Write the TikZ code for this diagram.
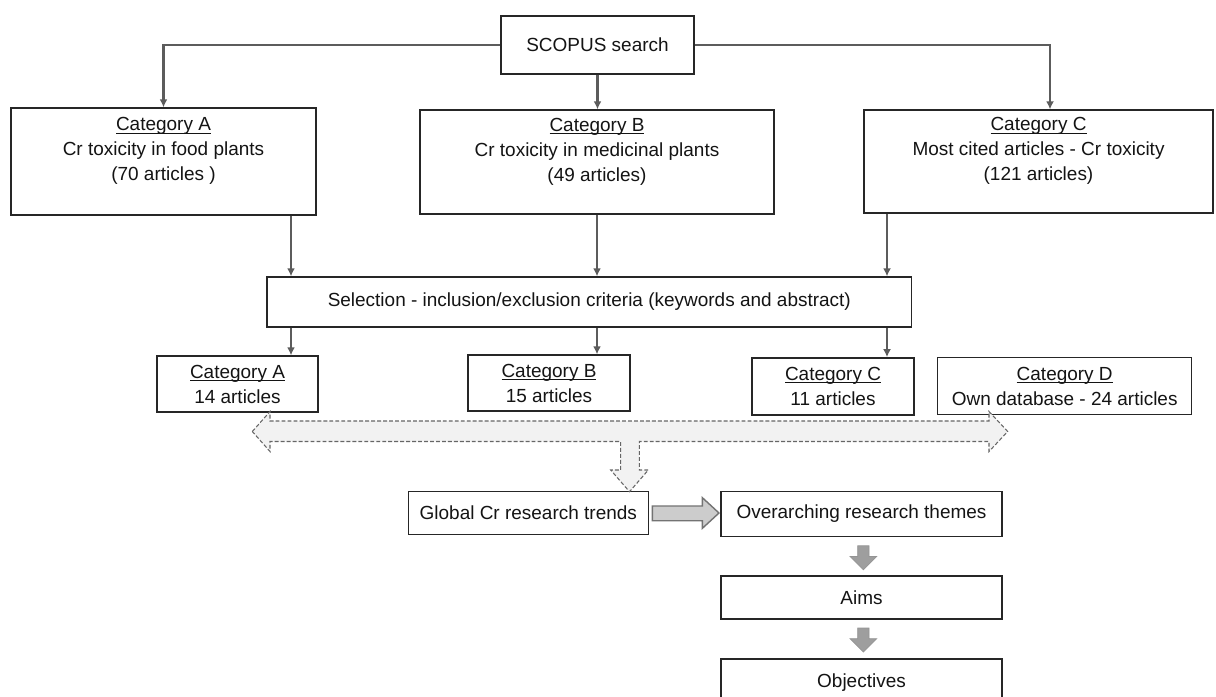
\documentclass[tikz,border=0pt]{standalone}
\usepackage{fontspec}
\setmainfont{Liberation Sans}
\usetikzlibrary{arrows.meta,positioning,calc}
\newcommand{\catul}[1]{\setbox0\hbox{#1}\rlap{\rule[-1.6pt]{\wd0}{0.55pt}}\box0}

\begin{document}
\begin{tikzpicture}[x=0.02cm,y=-0.02cm,>={Latex[length=0.16cm,width=0.16cm]},
  every node/.style={font=\fontsize{10.8}{14.2}\selectfont,text=black!92},
  bx/.style={draw=black!85,line width=0.8pt,fill=white,align=center,inner sep=0pt},
  ar/.style={->,line width=1.4pt,black!64},
  dsh/.style={draw=black!60,fill=black!5,line width=0.6pt,dash pattern=on 2.2pt off 1.2pt},
  blk/.style={draw=black!55,fill=black!20,line width=0.8pt},
  dn/.style={draw=black!42,fill=black!38,line width=0.4pt}]
\useasboundingbox[fill=white] (0,0) rectangle (1216,696);
\node[bx,minimum width=3.86cm,minimum height=1.16cm] (scopus) at (597.5,45) {SCOPUS search};
\node[bx,minimum width=6.1cm,minimum height=2.14cm] (catA) at (163.5,161.5) {\catul{Category A}\\Cr toxicity in food plants\\(70 articles )\\\mbox{}};
\node[bx,minimum width=7.08cm,minimum height=2.08cm] (catB) at (597,162) {\catul{Category B}\\Cr toxicity in medicinal plants\\(49 articles)\\\mbox{}};
\node[bx,minimum width=6.98cm,minimum height=2.06cm] (catC) at (1038.5,161.5) {\catul{Category C}\\Most cited articles - Cr toxicity\\(121 articles)\\\mbox{}};
\node[bx,minimum width=12.9cm,minimum height=1.0cm] (sel) at (589.3,302) {Selection - inclusion/exclusion criteria (keywords and abstract)};
\node[bx,minimum width=3.22cm,minimum height=1.12cm] (keptA) at (237.5,384) {\catul{Category A}\\14 articles};
\node[bx,minimum width=3.24cm,minimum height=1.12cm] (keptB) at (549,383) {\catul{Category B}\\15 articles};
\node[bx,minimum width=3.24cm,minimum height=1.14cm] (keptC) at (833,386.3) {\catul{Category C}\\11 articles};
\node[bx,minimum width=5.08cm,minimum height=1.13cm] (keptD) at (1064.7,386) {\catul{Category D}\\Own database - 24 articles};
\node[bx,minimum width=4.8cm,minimum height=0.85cm] (trends) at (528.3,513) {Global Cr research trends};
\node[bx,minimum width=5.62cm,minimum height=0.91cm] (themes) at (861.5,514) {Overarching research themes};
\node[bx,minimum width=5.62cm,minimum height=0.86cm] (aims) at (861.5,597.5) {Aims};
\node[bx,minimum width=5.62cm,minimum height=0.94cm] (obj) at (861.5,682.6) {Objectives};
\coordinate (xa) at (291,0);
\coordinate (xb) at (597,0);
\coordinate (xc) at (887,0);
\draw[ar] (scopus.west) -| (catA.north);
\draw[ar] (scopus.south) -- (scopus.south |- catB.north);
\draw[ar] (scopus.east) -| ($(catC.north)+(11.5,0)$);
\foreach \c/\s in {A/xa,B/xb,C/xc} {
  \draw[ar] (cat\c.south -| \s) -- (sel.north -| \s);
  \draw[ar] (sel.south -| \s) -- (kept\c.north -| \s);
}
\draw[dsh] (252.3,431.5) -- (270,411.5) -- (270,421) -- (989,421) -- (989,411.5) -- (1007.7,431.5) -- (989,451.5) -- (989,441.5) -- (639.3,441.5) -- (639.3,470) -- (648.3,470) -- (629.5,491.7) -- (610.7,470) -- (620.7,470) -- (620.7,441.5) -- (270,441.5) -- (270,451.5) -- cycle;
\draw[blk] ($(trends.east)+(3.4,-7)$) -- ++(50,0) -- ++(0,-8.3) -- ++(16.6,15.3) -- ++(-16.6,15.3) -- ++(0,-7.6) -- ++(-50,0) -- cycle;
\foreach \a in {themes,aims}
  \draw[dn] ($(\a.south)+(-3.8,8.3)$) -- ++(11.3,0) -- ++(0,10.7) -- ++(7.7,0) -- ++(-13.35,13.3) -- ++(-13.35,-13.3) -- ++(7.7,0) -- cycle;
\end{tikzpicture}
\end{document}
